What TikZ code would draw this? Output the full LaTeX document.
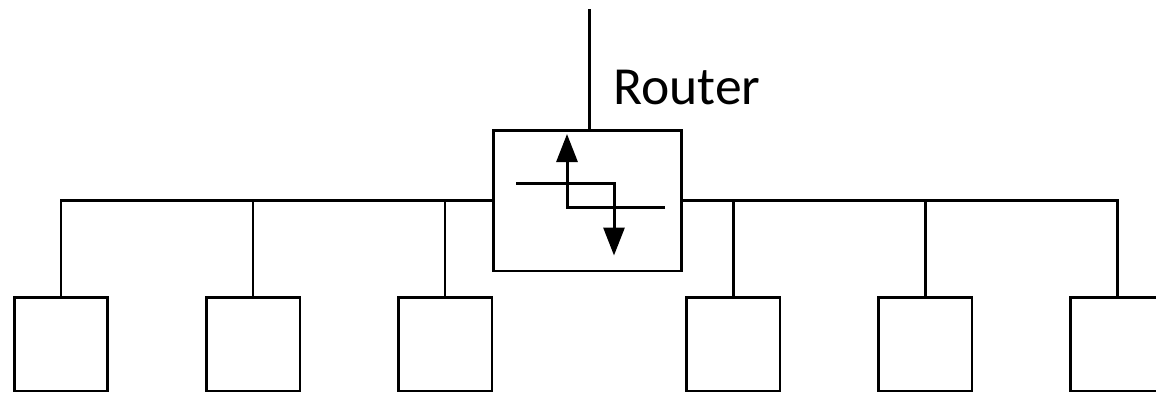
\documentclass[tikz,border=0pt]{standalone}
\usepackage{fontspec}
\setmainfont{Carlito}
\usetikzlibrary{arrows.meta, positioning}

\begin{document}
\begin{tikzpicture}[
    x=0.02cm, y=-0.02cm,
    line width=1.7pt,
    host/.style={draw, minimum width=1.88cm, minimum height=1.88cm, inner sep=0pt},
    routerbox/.style={draw, minimum width=3.78cm, minimum height=2.82cm, inner sep=0pt},
    flow/.style={-{Triangle[length=0.56cm, width=0.42cm]}},
]
\useasboundingbox (0,0) rectangle (1156,393);

% Router in the middle
\node[routerbox] (router) at (587.5,200.5) {};
\coordinate (uplink) at (589,9);
\draw (uplink) -- (router.north -| uplink);
\node[anchor=base west, font=\fontsize{30.5pt}{36pt}\selectfont] (rlabel) at (606,104) {Router};

% Routing symbol
\begin{scope}[shift={(router.center)}]
\draw[flow] (-71.5,-17.5) -| (26.5,55);
\draw[flow] (77.5,6.5) -| (-20.5,-66.5);
\end{scope}

% Hosts
\foreach \i/\x in {1/61, 2/253, 3/445, 4/733, 5/925, 6/1117}
  \node[host] (h\i) at (\x,344) {};

% Bus on both sides
\draw (h1.north) |- (router.west);
\draw (h6.north) |- (router.east);
\foreach \i in {2,3}
  \draw (h\i.north) -- (h\i.north |- router.west);
\foreach \i in {4,5}
  \draw (h\i.north) -- (h\i.north |- router.east);

\end{tikzpicture}
\end{document}
